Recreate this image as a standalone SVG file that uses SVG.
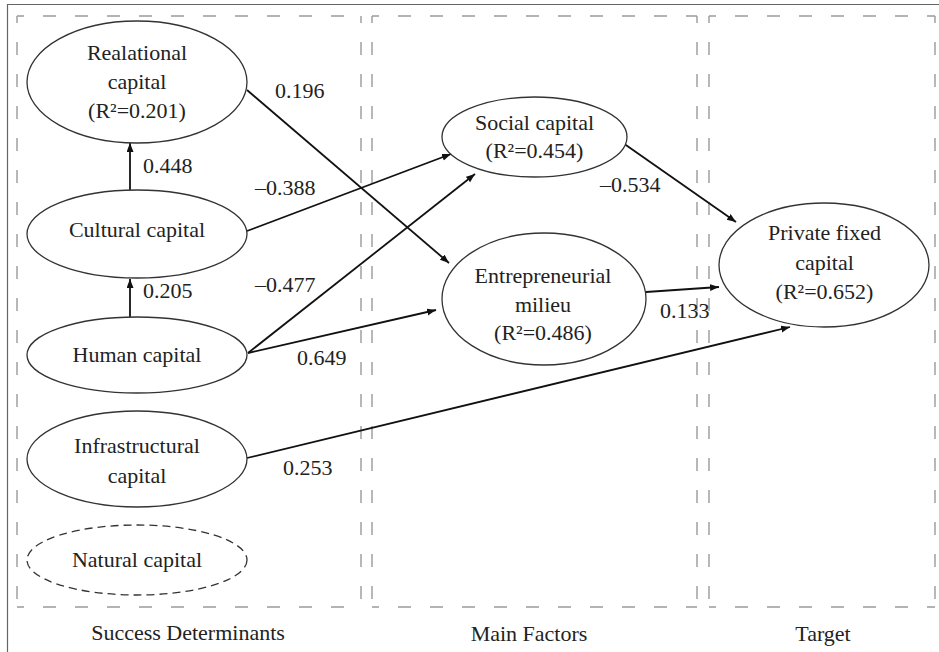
<svg xmlns="http://www.w3.org/2000/svg" width="939" height="652" viewBox="0 0 939 652">
<style>
text{font-family:"Liberation Serif","Times New Roman",serif;font-size:22px;fill:#222;text-anchor:middle}
.lbl{text-anchor:start}
.node{fill:#fff;stroke:#333;stroke-width:1.3}
.dashnode{fill:#fff;stroke:#333;stroke-width:1.3;stroke-dasharray:8 5}
.box{fill:none;stroke:#9a9a9a;stroke-width:1.4;stroke-dasharray:13 19;stroke-dashoffset:6}
.edge{stroke:#111;stroke-width:1.8;fill:none;marker-end:url(#ah)}
.frame{stroke:#666;stroke-width:1.2;fill:none}
</style>
<defs>
<marker id="ah" markerUnits="userSpaceOnUse" markerWidth="10" markerHeight="8" refX="9" refY="3.5" orient="auto">
<path d="M0,0 L9,3.5 L0,7 z" fill="#111"/>
</marker>
</defs>
<rect width="939" height="652" fill="#fff"/>
<path class="frame" d="M7.5,652 V4.5 H939"/>
<g id="boxes">
<path class="box" d="M17,16 H361 M361,16 V607 M17,16 V607 M17,607 H361"/>
<path class="box" d="M372,16 H697 M697,16 V607 M372,16 V607 M372,607 H697"/>
<path class="box" d="M709,16 H935 M935,16 V607 M709,16 V607 M709,607 H935"/>
</g>
<g id="connectors">
<line class="edge" x1="130" y1="190" x2="130" y2="143"/>
<line class="edge" x1="130" y1="317" x2="130" y2="279"/>
<line class="edge" x1="247" y1="90" x2="449" y2="263"/>
<line class="edge" x1="247" y1="231" x2="451" y2="154"/>
<line class="edge" x1="248" y1="353" x2="475" y2="174"/>
<line class="edge" x1="248" y1="353" x2="436" y2="310"/>
<line class="edge" x1="247" y1="458" x2="790" y2="327"/>
<line class="edge" x1="623" y1="143" x2="736" y2="222"/>
<line class="edge" x1="646" y1="292" x2="719" y2="287"/>
<text class="lbl" x="143" y="173">0.448</text>
<text class="lbl" x="143" y="298">0.205</text>
<text class="lbl" x="275" y="98">0.196</text>
<text class="lbl" x="255" y="195">–0.388</text>
<text class="lbl" x="255" y="292">–0.477</text>
<text class="lbl" x="297" y="365">0.649</text>
<text class="lbl" x="283" y="475">0.253</text>
<text class="lbl" x="600" y="192">–0.534</text>
<text class="lbl" x="660" y="318">0.133</text>
</g>
<g id="realational">
<ellipse class="node" cx="137" cy="82" rx="110" ry="61"/>
<text x="137" y="60">Realational</text>
<text x="137" y="89">capital</text>
<text x="137" y="118">(R²=0.201)</text>
</g>
<g id="cultural">
<ellipse class="node" cx="137" cy="234" rx="110" ry="44"/>
<text x="137" y="237">Cultural capital</text>
</g>
<g id="human">
<ellipse class="node" cx="137" cy="355" rx="110" ry="38"/>
<text x="137" y="362">Human capital</text>
</g>
<g id="infrastructural">
<ellipse class="node" cx="137" cy="459" rx="110" ry="48"/>
<text x="137" y="453">Infrastructural</text>
<text x="137" y="483">capital</text>
</g>
<g id="natural">
<ellipse class="dashnode" cx="137" cy="560" rx="110" ry="35"/>
<text x="137" y="567">Natural capital</text>
</g>
<g id="social">
<ellipse class="node" cx="534.5" cy="137" rx="92.5" ry="40"/>
<text x="534.5" y="130">Social capital</text>
<text x="534.5" y="158">(R²=0.454)</text>
</g>
<g id="entrepreneurial">
<ellipse class="node" cx="544" cy="299" rx="102" ry="66"/>
<text x="543" y="283">Entrepreneurial</text>
<text x="543" y="312">milieu</text>
<text x="543" y="340">(R²=0.486)</text>
</g>
<g id="private">
<ellipse class="node" cx="824" cy="265" rx="105" ry="62"/>
<text x="824.5" y="240">Private fixed</text>
<text x="824.5" y="270">capital</text>
<text x="824.5" y="299">(R²=0.652)</text>
</g>
<g id="headers">
<text x="188" y="640">Success Determinants</text>
<text x="529" y="641">Main Factors</text>
<text x="823" y="641">Target</text>
</g>
</svg>
